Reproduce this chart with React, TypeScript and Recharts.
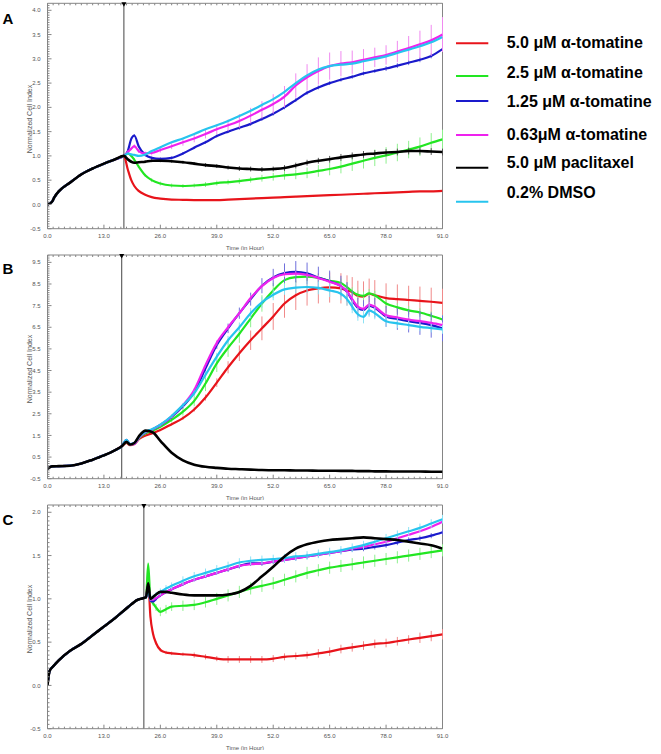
import { LineChart, Line, XAxis, YAxis, ErrorBar, ReferenceLine, Label } from 'recharts';

const seriesNames = [
  '5.0 μM α-tomatine',
  '2.5 μM α-tomatine',
  '1.25 μM α-tomatine',
  '0.63μM α-tomatine',
  '5.0 μM paclitaxel',
  '0.2% DMSO',
];
const seriesColors = ['#e8141b', '#22e622', '#1a1acc', '#ee22ee', '#000000', '#27c4ee'];
const errorColors = ['#f08a8a', '#8ef08e', '#7070dc', '#f08af0', '#555555', '#8ee2f4'];
// order the lines are painted in (last one on top)
const drawOrder = [0, 1, 2, 3, 5, 4];

const xTicks = [0, 13, 26, 39, 52, 65, 78, 91];
const yTicksA = [-0.5, 0, 0.5, 1, 1.5, 2, 2.5, 3, 3.5, 4];
const yTicksB = [-0.5, 0.5, 1.5, 2.5, 3.5, 4.5, 5.5, 6.5, 7.5, 8.5, 9.5];
const yTicksC = [-0.5, 0, 0.5, 1, 1.5, 2];

// ---- panel A (compound added at 17.6 h) ----
const treatA = 17.6;
const timeA = [0, 1, 1.6, 2.6, 5.2, 7.8, 10.4, 13, 15.6, 17.6,
  18.5, 19.3, 20, 21, 22.5, 24, 26, 28.6, 31.2, 33.8, 36.4, 39, 41.6, 44.2, 46.8, 49.4,
  52, 54.6, 57.2, 59.8, 62.4, 65, 67.6, 70.2, 72.8, 75.4, 78, 80.6, 83.2, 85.8, 88.4, 91];
const baseA = [0, 0.05, 0.15, 0.27, 0.45, 0.62, 0.74, 0.84, 0.93, 1.0];
const redA = [0.72, 0.5, 0.38, 0.28, 0.2, 0.15, 0.12, 0.1, 0.095, 0.09, 0.09, 0.09, 0.1, 0.11, 0.12, 0.13,
  0.14, 0.15, 0.16, 0.17, 0.18, 0.19, 0.2, 0.21, 0.22, 0.23, 0.24, 0.25, 0.26, 0.27, 0.27, 0.28];
const greenA = [1.05, 1.0, 0.92, 0.78, 0.6, 0.5, 0.43, 0.39, 0.38, 0.39, 0.41, 0.44, 0.46, 0.48, 0.51, 0.54,
  0.57, 0.6, 0.62, 0.65, 0.69, 0.73, 0.78, 0.84, 0.9, 0.96, 1.01, 1.07, 1.13, 1.19, 1.27, 1.34];
const blueA = [1.1, 1.35, 1.42, 1.2, 1.02, 0.96, 0.94, 0.96, 1.05, 1.17, 1.28, 1.41, 1.5, 1.58, 1.66, 1.76,
  1.87, 2.0, 2.15, 2.3, 2.41, 2.5, 2.57, 2.63, 2.7, 2.75, 2.8, 2.86, 2.92, 2.98, 3.06, 3.2];
const magentaA = [1.08, 1.15, 1.2, 1.1, 1.05, 1.06, 1.12, 1.2, 1.28, 1.36, 1.45, 1.55, 1.63, 1.72, 1.83, 1.95,
  2.07, 2.22, 2.45, 2.62, 2.75, 2.85, 2.9, 2.93, 2.98, 3.03, 3.08, 3.15, 3.22, 3.3, 3.38, 3.5];
const blackA = [0.93, 0.88, 0.86, 0.87, 0.88, 0.9, 0.9, 0.89, 0.87, 0.84, 0.81, 0.79, 0.76, 0.74, 0.73, 0.72,
  0.73, 0.75, 0.8, 0.86, 0.9, 0.93, 0.97, 1.0, 1.03, 1.05, 1.07, 1.08, 1.1, 1.1, 1.09, 1.08];
const cyanA = [1.05, 1.03, 1.02, 1.0, 1.03, 1.1, 1.18, 1.28, 1.36, 1.45, 1.55, 1.63, 1.72, 1.82, 1.93, 2.05,
  2.17, 2.32, 2.5, 2.66, 2.78, 2.85, 2.88, 2.9, 2.95, 3.0, 3.05, 3.12, 3.19, 3.26, 3.34, 3.45];
const errGreenA = [0.02, 0.02, 0.03, 0.03, 0.03, 0.04, 0.04, 0.04, 0.04, 0.04, 0.05, 0.05, 0.05, 0.06, 0.06, 0.07,
  0.08, 0.09, 0.1, 0.11, 0.12, 0.13, 0.14, 0.15, 0.16, 0.17, 0.17, 0.18, 0.18, 0.19, 0.2, 0.2];
const errBlueA = [0.03, 0.03, 0.03, 0.03, 0.03, 0.03, 0.03, 0.03, 0.03, 0.03, 0.03, 0.03, 0.03, 0.04, 0.04, 0.04,
  0.04, 0.04, 0.04, 0.04, 0.04, 0.04, 0.04, 0.04, 0.04, 0.04, 0.05, 0.05, 0.05, 0.05, 0.05, 0.05];
const errMagentaA = [0.03, 0.03, 0.04, 0.04, 0.04, 0.05, 0.05, 0.06, 0.07, 0.08, 0.09, 0.1, 0.12, 0.14, 0.16, 0.18,
  0.2, 0.22, 0.25, 0.27, 0.28, 0.28, 0.26, 0.24, 0.22, 0.2, 0.2, 0.22, 0.25, 0.28, 0.32, 0.36];
const errBlackA = [0.02, 0.02, 0.02, 0.02, 0.03, 0.03, 0.03, 0.03, 0.03, 0.03, 0.04, 0.04, 0.04, 0.05, 0.05, 0.05,
  0.05, 0.06, 0.06, 0.06, 0.06, 0.07, 0.07, 0.07, 0.07, 0.07, 0.07, 0.07, 0.07, 0.07, 0.07, 0.07];

// ---- panel B (compound added at 17.1 h) ----
const treatB = 17.1;
const timeB = [0, 1, 2.6, 5.2, 7.8, 10.4, 13, 15.6, 17.1,
  18.2, 19, 20, 21.2, 22.6, 24.2, 26, 28.6, 31.2, 33.8, 36.4, 39, 41.6, 44.2, 46.8, 49.4,
  52, 54.6, 57.2, 59.8, 62.4, 65, 67.6, 69, 70.2, 71.5, 72.8, 74.1, 75.4, 78, 80.6, 83.2, 85.8, 88.4, 91];
const baseB = [-0.05, 0.07, 0.08, 0.1, 0.2, 0.38, 0.58, 0.82, 1.0];
const redB = [1.15, 1.05, 1.1, 1.35, 1.5, 1.6, 1.75, 2.02, 2.3, 2.7, 3.25, 3.94, 4.65, 5.3, 5.9, 6.45,
  7.0, 7.6, 7.98, 8.2, 8.3, 8.34, 8.3, 8.2, 8.12, 7.95, 7.92, 8.05, 7.98, 7.85, 7.8, 7.76, 7.72, 7.68, 7.63];
const greenB = [1.2, 1.08, 1.12, 1.4, 1.6, 1.72, 1.9, 2.22, 2.6, 3.1, 3.9, 4.83, 5.55, 6.2, 6.9, 7.6,
  8.2, 8.68, 8.82, 8.84, 8.78, 8.65, 8.55, 8.35, 8.15, 8.0, 7.95, 8.07, 7.98, 7.6, 7.42, 7.28, 7.18, 7.03, 6.86];
const blueB = [1.3, 1.1, 1.15, 1.45, 1.65, 1.78, 1.98, 2.36, 2.85, 3.5, 4.6, 5.68, 6.45, 7.15, 7.8, 8.42,
  8.8, 9.0, 9.06, 8.99, 8.8, 8.62, 8.4, 8.14, 7.75, 7.4, 7.3, 7.5, 7.4, 7.0, 6.88, 6.78, 6.7, 6.6, 6.45];
const magentaB = [1.25, 1.08, 1.1, 1.42, 1.65, 1.78, 1.98, 2.38, 2.9, 3.6, 4.75, 5.78, 6.5, 7.15, 7.85, 8.4,
  8.78, 8.95, 8.98, 8.92, 8.78, 8.6, 8.4, 8.15, 7.8, 7.45, 7.35, 7.55, 7.45, 7.05, 6.95, 6.85, 6.78, 6.7, 6.6];
const blackB = [1.2, 1.08, 1.15, 1.5, 1.72, 1.65, 1.25, 0.7, 0.35, 0.15, 0.05, 0.0, -0.04, -0.06, -0.08, -0.1,
  -0.11, -0.11, -0.12, -0.12, -0.13, -0.13, -0.14, -0.14, -0.14, -0.15, -0.15, -0.15, -0.16, -0.16, -0.17, -0.17, -0.17, -0.18, -0.18];
const cyanB = [1.3, 1.1, 1.15, 1.45, 1.68, 1.8, 2.0, 2.4, 2.9, 3.45, 4.3, 5.14, 5.9, 6.5, 7.15, 7.65,
  8.0, 8.25, 8.33, 8.36, 8.32, 8.2, 8.05, 7.8, 7.45, 7.1, 6.98, 7.28, 7.15, 6.78, 6.68, 6.6, 6.52, 6.46, 6.4];
const errRedB = [0.02, 0.02, 0.02, 0.03, 0.03, 0.04, 0.05, 0.06, 0.08, 0.1, 0.14, 0.2, 0.28, 0.36, 0.45, 0.55,
  0.62, 0.66, 0.68, 0.7, 0.7, 0.7, 0.7, 0.7, 0.7, 0.7, 0.7, 0.7, 0.7, 0.68, 0.68, 0.66, 0.66, 0.65, 0.65];
const errGreenB = [0.02, 0.02, 0.03, 0.04, 0.05, 0.06, 0.08, 0.12, 0.18, 0.25, 0.35, 0.4, 0.42, 0.42, 0.4, 0.38,
  0.35, 0.3, 0.25, 0.22, 0.2, 0.2, 0.2, 0.2, 0.2, 0.2, 0.2, 0.2, 0.2, 0.2, 0.2, 0.2, 0.2, 0.2, 0.2];
const errBlueB = [0.03, 0.03, 0.03, 0.04, 0.05, 0.05, 0.06, 0.08, 0.1, 0.12, 0.15, 0.18, 0.22, 0.26, 0.3, 0.35,
  0.4, 0.45, 0.5, 0.5, 0.5, 0.5, 0.48, 0.45, 0.45, 0.45, 0.45, 0.45, 0.45, 0.48, 0.5, 0.52, 0.55, 0.58, 0.6];
const errMagentaB = [0.02, 0.02, 0.02, 0.03, 0.03, 0.04, 0.05, 0.06, 0.07, 0.08, 0.1, 0.12, 0.12, 0.12, 0.12, 0.12,
  0.12, 0.12, 0.12, 0.12, 0.12, 0.12, 0.12, 0.12, 0.12, 0.12, 0.12, 0.12, 0.12, 0.12, 0.12, 0.12, 0.12, 0.12, 0.12];
const errCyanB = [0.02, 0.02, 0.03, 0.04, 0.05, 0.06, 0.07, 0.08, 0.1, 0.12, 0.15, 0.18, 0.2, 0.22, 0.24, 0.25,
  0.25, 0.25, 0.25, 0.28, 0.3, 0.3, 0.3, 0.3, 0.3, 0.3, 0.3, 0.3, 0.28, 0.25, 0.22, 0.2, 0.2, 0.2, 0.2];

// ---- panel C (compound added at 22.2 h) ----
const treatC = 22.2;
const timeC = [0, 0.5, 1.3, 2.6, 5.2, 7.8, 10.4, 13, 15.6, 18.2, 20.8, 22.2,
  22.7, 23.2, 23.7, 24.3, 25, 26, 27.3, 28.6, 31.2, 33.8, 36.4, 39, 41.6, 44.2, 46.8, 49.4,
  52, 54.6, 57.2, 59.8, 62.4, 65, 67.6, 70.2, 72.8, 75.4, 78, 80.6, 83.2, 85.8, 88.4, 91];
const baseC = [0, 0.17, 0.22, 0.29, 0.4, 0.48, 0.58, 0.68, 0.78, 0.89, 0.99, 1.01];
const redC = [1.02, 1.2, 0.8, 0.6, 0.49, 0.41, 0.38, 0.37, 0.36, 0.35, 0.33, 0.31, 0.3, 0.3, 0.3, 0.3,
  0.31, 0.33, 0.34, 0.35, 0.37, 0.39, 0.42, 0.44, 0.46, 0.48, 0.49, 0.51, 0.53, 0.55, 0.57, 0.59];
const greenC = [1.02, 1.4, 1.0, 0.95, 0.9, 0.85, 0.88, 0.91, 0.92, 0.93, 0.96, 1.0, 1.04, 1.08, 1.12, 1.15,
  1.18, 1.22, 1.26, 1.3, 1.33, 1.36, 1.38, 1.4, 1.42, 1.44, 1.46, 1.48, 1.5, 1.52, 1.54, 1.56];
const blueC = [1.02, 1.15, 0.98, 0.97, 1.0, 1.04, 1.08, 1.11, 1.17, 1.22, 1.26, 1.3, 1.34, 1.38, 1.41, 1.41,
  1.43, 1.45, 1.47, 1.49, 1.51, 1.53, 1.55, 1.57, 1.58, 1.6, 1.62, 1.65, 1.68, 1.7, 1.73, 1.77];
const magentaC = [1.02, 1.15, 0.99, 0.99, 1.01, 1.04, 1.08, 1.11, 1.17, 1.22, 1.26, 1.3, 1.34, 1.38, 1.4, 1.41,
  1.43, 1.45, 1.47, 1.49, 1.51, 1.53, 1.55, 1.58, 1.6, 1.63, 1.66, 1.7, 1.74, 1.78, 1.83, 1.89];
const blackC = [1.02, 1.18, 1.0, 1.02, 1.05, 1.08, 1.08, 1.07, 1.05, 1.04, 1.04, 1.04, 1.05, 1.08, 1.15, 1.26,
  1.37, 1.49, 1.58, 1.63, 1.66, 1.68, 1.69, 1.7, 1.71, 1.7, 1.69, 1.68, 1.66, 1.64, 1.62, 1.58];
const cyanC = [1.02, 1.1, 1.0, 1.02, 1.05, 1.08, 1.12, 1.15, 1.21, 1.26, 1.3, 1.34, 1.38, 1.42, 1.44, 1.45,
  1.46, 1.47, 1.49, 1.5, 1.52, 1.54, 1.56, 1.59, 1.62, 1.66, 1.7, 1.74, 1.78, 1.82, 1.87, 1.92];
const errRedC = [0.01, 0.02, 0.02, 0.02, 0.02, 0.02, 0.02, 0.02, 0.02, 0.03, 0.03, 0.03, 0.04, 0.04, 0.04, 0.04,
  0.04, 0.04, 0.04, 0.04, 0.05, 0.05, 0.05, 0.05, 0.05, 0.05, 0.05, 0.05, 0.05, 0.06, 0.06, 0.06];
const errGreenC = [0.02, 0.02, 0.03, 0.03, 0.04, 0.05, 0.05, 0.05, 0.06, 0.06, 0.06, 0.07, 0.07, 0.07, 0.07, 0.07,
  0.07, 0.07, 0.07, 0.07, 0.07, 0.07, 0.07, 0.07, 0.07, 0.07, 0.07, 0.07, 0.07, 0.07, 0.07, 0.07];
const errBlueC = [0.01, 0.02, 0.02, 0.02, 0.02, 0.02, 0.02, 0.02, 0.02, 0.02, 0.02, 0.02, 0.03, 0.03, 0.03, 0.03,
  0.03, 0.03, 0.03, 0.03, 0.03, 0.03, 0.03, 0.03, 0.03, 0.03, 0.03, 0.03, 0.03, 0.03, 0.03, 0.03];
const errCyanC = [0.01, 0.02, 0.02, 0.03, 0.03, 0.04, 0.04, 0.04, 0.05, 0.05, 0.05, 0.05, 0.05, 0.05, 0.05, 0.05,
  0.05, 0.05, 0.05, 0.05, 0.05, 0.05, 0.05, 0.05, 0.05, 0.05, 0.05, 0.05, 0.05, 0.05, 0.05, 0.05];

type Row = Record<string, number>;

// pre-treatment values are shared by every well, afterwards each series has its own values
function buildRows(times: number[], base: number[], series: number[][], errs: (number[] | null)[]): Row[] {
  return times.map((t, i) => {
    const j = i - base.length;
    const row: Row = { t };
    series.forEach((s, k) => {
      row['v' + k] = j < 0 ? base[i] : s[j];
      const e = errs[k];
      if (e) row['e' + k] = j < 0 ? 0 : e[j];
    });
    return row;
  });
}

const errsA = [null, errGreenA, errBlueA, errMagentaA, errBlackA, null];
const errsB = [errRedB, errGreenB, errBlueB, errMagentaB, null, errCyanB];
const errsC = [errRedC, errGreenC, errBlueC, null, null, errCyanC];

const rowsA = buildRows(timeA, baseA, [redA, greenA, blueA, magentaA, blackA, cyanA], errsA);
const rowsB = buildRows(timeB, baseB, [redB, greenB, blueB, magentaB, blackB, cyanB], errsB);
const rowsC = buildRows(timeC, baseC, [redC, greenC, blueC, magentaC, blackC, cyanC], errsC);

const font = '"Liberation Sans", Arial, sans-serif';
const axisGrey = '#858585';
const tickGrey = '#555555';

function steps(from: number, to: number, step: number) {
  const n = Math.floor((to - from) / step + 1e-6);
  return Array.from({ length: n + 1 }, (_, i) => Math.round((from + i * step) * 1000) / 1000);
}
const xMinor = steps(0, 91, 1.3);

// bottom axis tick: short inward mark, taller and labelled on the major hours
function XTick(props: any) {
  const { x, y, payload } = props;
  const v = payload.value as number;
  const major = xTicks.includes(v);
  return (
    <g>
      <line x1={x} x2={x} y1={y} y2={y - (major ? 4 : 2)} stroke={axisGrey} />
      {major && (
        <text x={x} y={y + 5} dy="0.71em" textAnchor="middle" fontSize={6} fill={tickGrey} fontFamily={font}>
          {v.toFixed(1)}
        </text>
      )}
    </g>
  );
}

function makeYTick(majors: number[]) {
  return function YTick(props: any) {
    const { x, y, payload } = props;
    const v = payload.value as number;
    const major = majors.includes(v);
    return (
      <g>
        <line x1={x} x2={x + (major ? 4 : 2)} y1={y} y2={y} stroke={axisGrey} />
        {major && (
          <text x={x - 7} y={y} dy="0.355em" textAnchor="end" fontSize={6} fill={tickGrey} fontFamily={font}>
            {v.toFixed(1)}
          </text>
        )}
      </g>
    );
  };
}

// top frame with its small downward ticks, spread along the x range of the line
function TopFrame(props: any) {
  const { x1, x2, y1 } = props;
  const span = xMinor[xMinor.length - 1];
  return (
    <g>
      <line x1={x1} x2={x2} y1={y1} y2={y1} stroke={axisGrey} />
      {xMinor.map((t) => {
        const px = x1 + ((x2 - x1) * t) / span;
        return <line key={t} x1={px} x2={px} y1={y1} y2={y1 + 2} stroke={axisGrey} />;
      })}
    </g>
  );
}

function TreatMark(props: any) {
  const vb = props.viewBox || {};
  const x = vb.x ?? 0;
  const y = vb.y ?? 0;
  return <polygon points={`${x - 2.5},${y - 1} ${x + 2.5},${y - 1} ${x},${y + 3.5}`} fill="#000" />;
}

type PanelProps = {
  top: number;
  plotTop: number;
  rows: Row[];
  treat: number;
  yMax: number;
  yTicks: number[];
  yMinorStep: number;
  errs: (number[] | null)[];
};

function Panel({ top, plotTop, rows, treat, yMax, yTicks, yMinorStep, errs }: PanelProps) {
  const yMinor = steps(-0.5, yMax, yMinorStep);
  const YTick = makeYTick(yTicks);
  return (
    <div style={{ position: 'absolute', left: 0, top }}>
      <LineChart width={450} height={250} data={rows} margin={{ top: plotTop, right: 7.5, bottom: 0, left: 7.5 }}>
        <XAxis
          dataKey="t"
          type="number"
          domain={[0, 91]}
          allowDataOverflow
          ticks={xMinor}
          interval={0}
          height={21.3}
          tickLine={false}
          tickSize={0}
          tickMargin={0}
          axisLine={{ stroke: axisGrey }}
          tick={<XTick />}
        >
          <Label value="Time (in Hour)" position="insideBottom" offset={0} fontSize={6} fill={tickGrey} fontFamily={font} />
        </XAxis>
        <YAxis
          type="number"
          domain={[-0.5, yMax]}
          allowDataOverflow
          ticks={yMinor}
          interval={0}
          width={40}
          tickLine={false}
          tickSize={0}
          tickMargin={0}
          axisLine={{ stroke: axisGrey }}
          tick={<YTick />}
        >
          <Label
            content={() => (
              <text x={29.5} y={119} transform="rotate(-90 29.5 119)" textAnchor="middle" dominantBaseline="central"
                fontSize={7} fill={tickGrey} fontFamily={font}>
                Normalized Cell Index
              </text>
            )}
          />
        </YAxis>
        <ReferenceLine y={yMax} shape={(p: any) => <TopFrame {...p} />} />
        <ReferenceLine x={91} stroke={axisGrey} />
        <ReferenceLine x={treat} stroke="#444" strokeWidth={1} label={(p: any) => <TreatMark {...p} />} />
        {drawOrder.map((k) => (
          <Line
            key={k}
            type="monotone"
            dataKey={'v' + k}
            stroke={seriesColors[k]}
            strokeWidth={k === 4 ? 2.6 : 2.2}
            dot={false}
            isAnimationActive={false}
          >
            {errs[k] ? (
              <ErrorBar dataKey={'e' + k} width={0} stroke={errorColors[k]} strokeWidth={1} direction="y" isAnimationActive={false} />
            ) : null}
          </Line>
        ))}
      </LineChart>
    </div>
  );
}

const legendTextY = [48.3, 78.3, 107.3, 140, 168.3, 198.3];
const legendLineY = [43.3, 76, 101, 135, 167.7, 201.7];
const panelLetters = ['A', 'B', 'C'];
const letterY = [23.5, 274, 525];

export default function App() {
  return (
    <div style={{ position: 'absolute', left: 0, top: 0, width: 661, height: 754, background: '#fff', fontFamily: font }}>
      <Panel top={0} plotTop={3.3} rows={rowsA} treat={treatA} yMax={4.144} yTicks={yTicksA} yMinorStep={0.05} errs={errsA} />
      <Panel top={250} plotTop={5} rows={rowsB} treat={treatB} yMax={9.84} yTicks={yTicksB} yMinorStep={0.1} errs={errsB} />
      <Panel top={500} plotTop={5} rows={rowsC} treat={treatC} yMax={2.084} yTicks={yTicksC} yMinorStep={0.05} errs={errsC} />
      <svg width={661} height={754} style={{ position: 'absolute', left: 0, top: 0, pointerEvents: 'none' }}>
        {panelLetters.map((l, i) => (
          <text key={l} x={2.5} y={letterY[i]} fontSize={15} fontWeight="bold" fontFamily={font} fill="#000">
            {l}
          </text>
        ))}
        {seriesNames.map((name, i) => (
          <g key={name}>
            <line x1={456} x2={488.3} y1={legendLineY[i]} y2={legendLineY[i]} stroke={seriesColors[i]} strokeWidth={2} />
            <text x={506.7} y={legendTextY[i]} fontSize={16} fontWeight="bold" fontFamily={font} fill="#000">
              {name}
            </text>
          </g>
        ))}
      </svg>
    </div>
  );
}
